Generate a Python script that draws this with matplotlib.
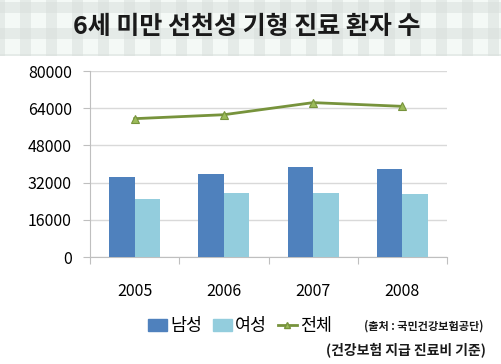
import matplotlib
matplotlib.use("Agg")
import matplotlib.pyplot as plt
import numpy as np
from matplotlib.patches import Rectangle
from matplotlib.lines import Line2D

plt.rcParams['font.family'] = ['Noto Sans CJK KR', 'DejaVu Sans']

years = ['2005', '2006', '2007', '2008']
male = [34500, 35700, 38850, 37850]
female = [25100, 27400, 27400, 27000]
total = [59500, 61200, 66400, 64800]
yticks = [0, 16000, 32000, 48000, 64000, 80000]

title = '6세 미만 선천성 기형 진료 환자 수'
legend_labels = ['남성', '여성', '전체']
source1 = '(출처 : 국민건강보험공단)'
source2 = '(건강보험 지급 진료비 기준)'

c_male = '#4F81BD'
c_female = '#93CDDD'
c_line = '#77933C'
c_marker = '#9BBB59'

W, H = 501, 364
fig = plt.figure(figsize=(W / 100, H / 100), dpi=100)
fig.patch.set_facecolor('white')

# plaid header background
bg = fig.add_axes([0, 1 - 56 / H, 1, 56 / H])
bg.set_axis_off()
bg.set_xlim(0, W)
bg.set_ylim(56, 0)
bg.add_patch(Rectangle((0, 0), W, 56, color='#F4F9F6', lw=0))
period = 26
for x0 in range(-6, W, period):
    bg.add_patch(Rectangle((x0, 0), 11, 56, color='#D8DEDB', alpha=0.5, lw=0))
for y0 in range(2, 56, period):
    bg.add_patch(Rectangle((0, y0), W, 11, color='#D8DEDB', alpha=0.5, lw=0))
bg.text(W / 2 - 4, 27, title, ha='center', va='center', fontsize=18,
        fontweight='bold', color='#1a1a1a')

ax = fig.add_axes([90 / W, 1 - 257 / H, (447 - 90) / W, (257 - 71) / H])
x = np.arange(len(years))
bw = 0.286
ax.bar(x - bw / 2, male, bw, color=c_male, zorder=3)
ax.bar(x + bw / 2, female, bw, color=c_female, zorder=3)
ax.plot(x, total, color=c_line, lw=2, marker='^', markersize=6,
        markerfacecolor=c_marker, markeredgecolor=c_line, markeredgewidth=0.8, zorder=4)

ax.set_xlim(-0.5, len(years) - 0.5)
ax.set_ylim(0, 80000)
ax.set_yticks(yticks)
ax.set_yticklabels([str(v) for v in yticks], fontsize=11.5)
ax.yaxis.grid(True, color='#D9D9D9', lw=1, zorder=0)
ax.set_axisbelow(True)

ax.set_xticks(np.arange(-0.5, len(years), 1.0))
ax.set_xticklabels([])
ax.set_xticks(x, minor=True)
ax.set_xticklabels(years, minor=True, fontsize=11.5)
ax.tick_params(axis='x', which='minor', length=0, pad=19)
ax.tick_params(axis='x', which='major', length=5, color='#BFBFBF', direction='out')
ax.tick_params(axis='y', length=5, color='#BFBFBF', direction='out', pad=8)

for s in ['top', 'right']:
    ax.spines[s].set_visible(False)
ax.spines['left'].set_color('#BFBFBF')
ax.spines['bottom'].set_color('#BFBFBF')

handles = [Rectangle((0, 0), 1, 1, color=c_male),
           Rectangle((0, 0), 1, 1, color=c_female),
           Line2D([0], [0], color=c_line, lw=2, marker='^', markersize=5,
                  markerfacecolor=c_marker, markeredgecolor=c_line)]
fig.legend(handles, legend_labels, loc='center', bbox_to_anchor=(240 / W, 1 - 326 / H),
           ncol=3, frameon=False, fontsize=12.5, handlelength=1.1, handletextpad=0.2,
           columnspacing=0.6, handleheight=0.7)

fig.text(484 / W, 1 - 326 / H, source1, ha='right', va='center', fontsize=8,
         fontweight='bold', color='#1a1a1a')
fig.text(486 / W, 1 - 350 / H, source2, ha='right', va='center', fontsize=10,
         fontweight='bold', color='#1a1a1a')

fig.savefig('out.png', dpi=100)
